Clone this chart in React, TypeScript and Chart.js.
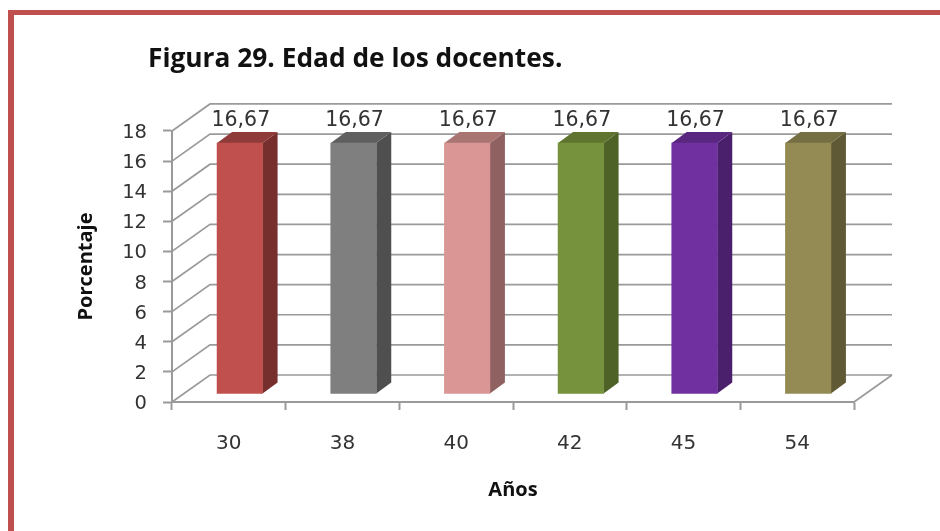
import React, { useEffect, useRef } from "react";
import { Chart, registerables } from "chart.js";

Chart.register(...registerables);

const categories = ["30", "38", "40", "42", "45", "54"];
const values = [16.67, 16.67, 16.67, 16.67, 16.67, 16.67];
const frontColors = ["#C0504D", "#7F7F7F", "#D99694", "#76923C", "#7030A0", "#948A54"];
const sideColors = ["#772F2D", "#4F4F4F", "#8F6261", "#4E6228", "#4A1F6B", "#5F5935"];
const topColors = ["#8F3B39", "#5F5F5F", "#A97573", "#5E742F", "#592680", "#766E43"];
const chartTitle = "Figura 29. Edad de los docentes.";
const yTitle = "Porcentaje";
const xTitle = "Años";

const WALL_DX = 38;
const WALL_DY = 27;
const BAR_DX = 11;
const BAR_DY = 8;
const DEPTH_DX = 15;
const DEPTH_DY = 11;
const GRID = "#9A9A9A";

const poly = (ctx: CanvasRenderingContext2D, pts: number[][], fill: string) => {
  ctx.beginPath();
  pts.forEach(([x, y], i) => (i ? ctx.lineTo(x, y) : ctx.moveTo(x, y)));
  ctx.closePath();
  ctx.fillStyle = fill;
  ctx.fill();
};

const wallsPlugin = {
  id: "walls",
  beforeDraw(chart: any) {
    chart.titleBlock.left = 148;
  },
  beforeDatasetsDraw(chart: any) {
    const { ctx, scales } = chart;
    const y = scales.y;
    const left = scales.x.left;
    const right = scales.x.right;
    ctx.save();
    ctx.strokeStyle = GRID;
    ctx.lineWidth = 1.7;
    y.ticks.forEach((t: any) => {
      const py = y.getPixelForValue(t.value);
      ctx.beginPath();
      ctx.moveTo(left, py);
      ctx.lineTo(left + WALL_DX, py - WALL_DY);
      ctx.lineTo(right + WALL_DX, py - WALL_DY);
      ctx.stroke();
    });
    const base = y.getPixelForValue(0);
    ctx.beginPath();
    ctx.moveTo(right, base);
    ctx.lineTo(right + WALL_DX, base - WALL_DY);
    ctx.stroke();
    ctx.restore();
  },
  beforeDatasetDraw(chart: any) {
    const { ctx } = chart;
    ctx.save();
    ctx.translate(BAR_DX, -BAR_DY);
    chart.getDatasetMeta(0).data.forEach((bar: any, i: number) => {
      const l = bar.x - bar.width / 2;
      const r = bar.x + bar.width / 2;
      poly(ctx, [[r, bar.y], [r + DEPTH_DX, bar.y - DEPTH_DY], [r + DEPTH_DX, bar.base - DEPTH_DY], [r, bar.base]], sideColors[i]);
      poly(ctx, [[l, bar.y], [l + DEPTH_DX, bar.y - DEPTH_DY], [r + DEPTH_DX, bar.y - DEPTH_DY], [r, bar.y]], topColors[i]);
    });
  },
  afterDatasetDraw(chart: any) {
    const { ctx } = chart;
    ctx.restore();
    ctx.save();
    ctx.font = '20.5px "DejaVu Sans"';
    ctx.fillStyle = "#333333";
    ctx.textAlign = "center";
    ctx.textBaseline = "middle";
    chart.getDatasetMeta(0).data.forEach((bar: any, i: number) => {
      ctx.fillText(String(values[i]).replace(".", ","), bar.x + BAR_DX + 1, bar.y - 30);
    });
    ctx.restore();
  },
};

export default function App() {
  const ref = useRef<HTMLCanvasElement>(null);
  useEffect(() => {
    const chart = new Chart(ref.current as HTMLCanvasElement, {
      type: "bar",
      data: {
        labels: categories,
        datasets: [
          {
            data: values,
            backgroundColor: frontColors,
            barThickness: 45.5,
            clip: false,
            borderWidth: 0,
          } as any,
        ],
      },
      options: {
        responsive: false,
        animation: false,
        devicePixelRatio: 1,
        layout: { autoPadding: false, padding: { left: 60, right: 86, top: 0, bottom: 0 } },
        plugins: {
          legend: { display: false },
          tooltip: { enabled: false },
          title: {
            display: true,
            text: chartTitle,
            align: "start",
            fullSize: true,
            color: "#111111",
            font: { family: '"Open Sans"', size: 26.3, weight: "bold", lineHeight: 1.2 },
            padding: { top: 44, bottom: 55.4 },
          },
        },
        scales: {
          x: {
            offset: true,
            afterFit(s: any) {
              s.height = 129;
            },
            grid: { drawOnChartArea: false, drawTicks: true, offset: true, tickLength: 8, tickColor: GRID, tickWidth: 2 },
            border: { display: true, color: GRID, width: 2 },
            ticks: { color: "#333333", font: { family: '"DejaVu Sans"', size: 20, lineHeight: 1.2 }, padding: 22, maxRotation: 0 },
            title: {
              display: true,
              text: xTitle,
              color: "#111111",
              font: { family: '"Open Sans"', size: 20, weight: "bold", lineHeight: 1.2 },
              padding: { top: 0, bottom: 29 },
            },
          },
          y: {
            min: 0,
            max: 18,
            afterFit(s: any) {
              s.width = 112;
            },
            grid: { drawOnChartArea: false, drawTicks: true, tickLength: 9, tickColor: GRID, tickWidth: 2 },
            border: { display: true, color: GRID, width: 2 },
            ticks: { stepSize: 2, color: "#333333", font: { family: '"DejaVu Sans"', size: 19.5, lineHeight: 1.2 }, padding: 16, labelOffset: 2 },
            title: {
              display: true,
              text: yTitle,
              color: "#111111",
              font: { family: '"Open Sans"', size: 20, weight: "bold", lineHeight: 1.2 },
              padding: { top: 14, bottom: 0 },
            },
          },
        },
      },
      plugins: [wallsPlugin],
    } as any);
    return () => chart.destroy();
  }, []);

  return (
    <div style={{ position: "fixed", inset: 0, overflow: "hidden", background: "#fff" }}>
      <div
        style={{
          position: "absolute",
          left: 8,
          top: 10,
          width: 1000,
          height: 700,
          borderLeft: "6px solid #C0504D",
          borderTop: "5px solid #C0504D",
        }}
      />
      <canvas
        ref={ref}
        width={940}
        height={531}
        style={{ position: "absolute", left: 0, top: 0, width: 940, height: 531, filter: "blur(0.4px)" }}
      />
    </div>
  );
}
